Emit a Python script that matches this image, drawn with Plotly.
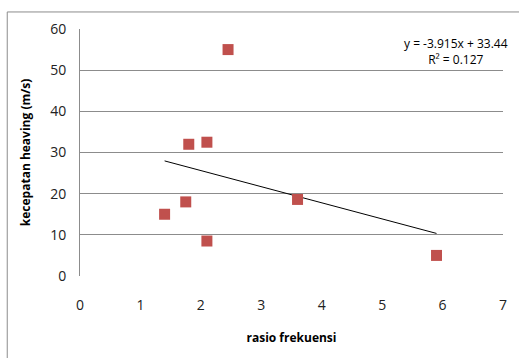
import plotly.graph_objects as go

rasio = [1.4, 1.75, 2.1, 1.8, 2.1, 2.45, 3.6, 5.9]
kecepatan = [15.0, 18.0, 8.5, 32.0, 32.5, 55.0, 18.6, 5.0]
slope = -3.915
intercept = 33.44
trend_x = [min(rasio), max(rasio)]
trend_y = [slope * v + intercept for v in trend_x]
x_ticks = [0, 1, 2, 3, 4, 5, 6, 7]
y_ticks = [0, 10, 20, 30, 40, 50, 60]

FONT = "Open Sans, sans-serif"

fig = go.Figure()
fig.add_trace(go.Scatter(x=trend_x, y=trend_y, mode="lines",
                         line=dict(color="black", width=1), hoverinfo="skip"))
fig.add_trace(go.Scatter(x=rasio, y=kecepatan, mode="markers",
                         marker=dict(symbol="square", size=11, color="#C0504D",
                                     line=dict(width=0))))

fig.update_layout(
    width=519, height=358,
    margin=dict(l=80, r=14, t=29, b=82),
    paper_bgcolor="white", plot_bgcolor="white",
    showlegend=False,
    font=dict(family=FONT, size=13, color="#222"),
    xaxis=dict(range=[0, 7], tickvals=x_ticks, showgrid=False, zeroline=False,
               showline=False, ticks="", ticklabelstandoff=19,
               tickfont=dict(size=14),
               title=dict(text="<b>rasio frekuensi</b>", standoff=20,
                          font=dict(size=12, color="black"))),
    yaxis=dict(range=[0, 60], tickvals=y_ticks, showgrid=True, gridcolor="#8c8c8c",
               gridwidth=1, zeroline=False, showline=True, linecolor="#8c8c8c",
               linewidth=1, ticks="", ticklabelstandoff=10,
               tickfont=dict(size=14),
               title=dict(text="<b>kecepatan heaving (m/s)</b>", standoff=16,
                          font=dict(size=12, color="black"))),
    annotations=[
        dict(xref="paper", yref="paper", x=1.016, y=0.985, xanchor="right", yanchor="top",
             text="y = -3.915x + 33.44<br>R\u00b2 = 0.127", showarrow=False, align="center",
             font=dict(size=12, color="black"))
    ],
    shapes=[
        dict(type="line", xref="paper", yref="paper", x0=-0.172, x1=1.1, y0=1.069, y1=1.069,
             line=dict(color="#8c8c8c", width=1)),
        dict(type="line", xref="paper", yref="paper", x0=-0.172, x1=-0.172, y0=1.069, y1=-0.4,
             line=dict(color="#8c8c8c", width=1)),
    ],
)

fig.write_html("out.html")
